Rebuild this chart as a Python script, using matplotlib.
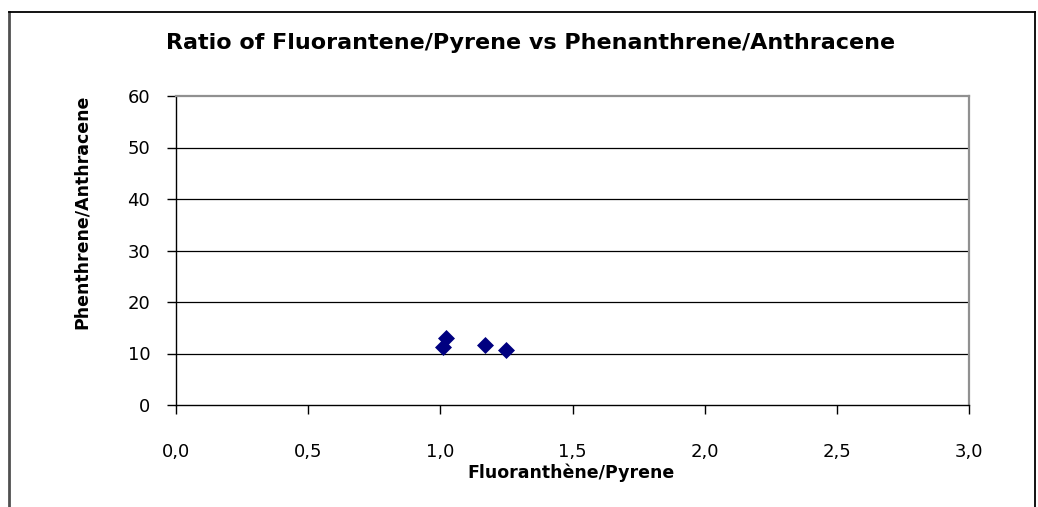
import matplotlib
matplotlib.use("Agg")
import matplotlib.pyplot as plt
from matplotlib.lines import Line2D

# ratios
fla_pyr = [1.01, 1.02, 1.17, 1.25]
phe_ant = [11.2, 13.1, 11.6, 10.6]

x_ticks = [0.0, 0.5, 1.0, 1.5, 2.0, 2.5, 3.0]
x_labels = ["0,0", "0,5", "1,0", "1,5", "2,0", "2,5", "3,0"]
y_ticks = [0, 10, 20, 30, 40, 50, 60]

W, H = 1038, 507
fig = plt.figure(figsize=(W / 100, H / 100), dpi=100)
ax = fig.add_axes([176 / W, 1 - 405 / H, (969 - 176) / W, (405 - 96) / H])

ax.scatter(fla_pyr, phe_ant, marker="D", s=75, color="#000080", zorder=3, linewidths=0)

ax.set_xlim(0, 3)
ax.set_ylim(0, 60)
ax.set_xticks(x_ticks)
ax.set_xticklabels(x_labels)
ax.set_yticks(y_ticks)
for y in y_ticks[1:-1]:
    ax.axhline(y, color="black", lw=0.9, zorder=1)

for s in ["top", "right"]:
    ax.spines[s].set_color("#909090")
    ax.spines[s].set_linewidth(1.6)
for s in ["left", "bottom"]:
    ax.spines[s].set_color("black")
    ax.spines[s].set_linewidth(1.0)

ax.tick_params(direction="out", length=6.5, width=1, labelsize=13)
ax.tick_params(axis="y", pad=12)
ax.tick_params(axis="x", pad=21)

fig.text(531 / W, 1 - 43 / H, "Ratio of Fluorantene/Pyrene vs Phenanthrene/Anthracene",
         ha="center", va="center", fontsize=16, fontweight="bold")
fig.text(571 / W, 1 - 473 / H, "Fluoranthène/Pyrene", ha="center", va="center",
         fontsize=12.5, fontweight="bold")
fig.text(82 / W, 1 - 212 / H, "Phenthrene/Anthracene", ha="center", va="center",
         rotation=90, fontsize=12.5, fontweight="bold")

# outer chart frame, open at the bottom
for xs, ys, c, lw in [([9, 9], [12, H + 5], "#505050", 2.0),
                      ([9, 1035], [12, 12], "black", 1.3),
                      ([1035, 1035], [12, H + 5], "black", 1.3)]:
    fig.add_artist(Line2D([x / W for x in xs], [1 - y / H for y in ys], color=c, lw=lw))

fig.savefig("out.png", dpi=100)
